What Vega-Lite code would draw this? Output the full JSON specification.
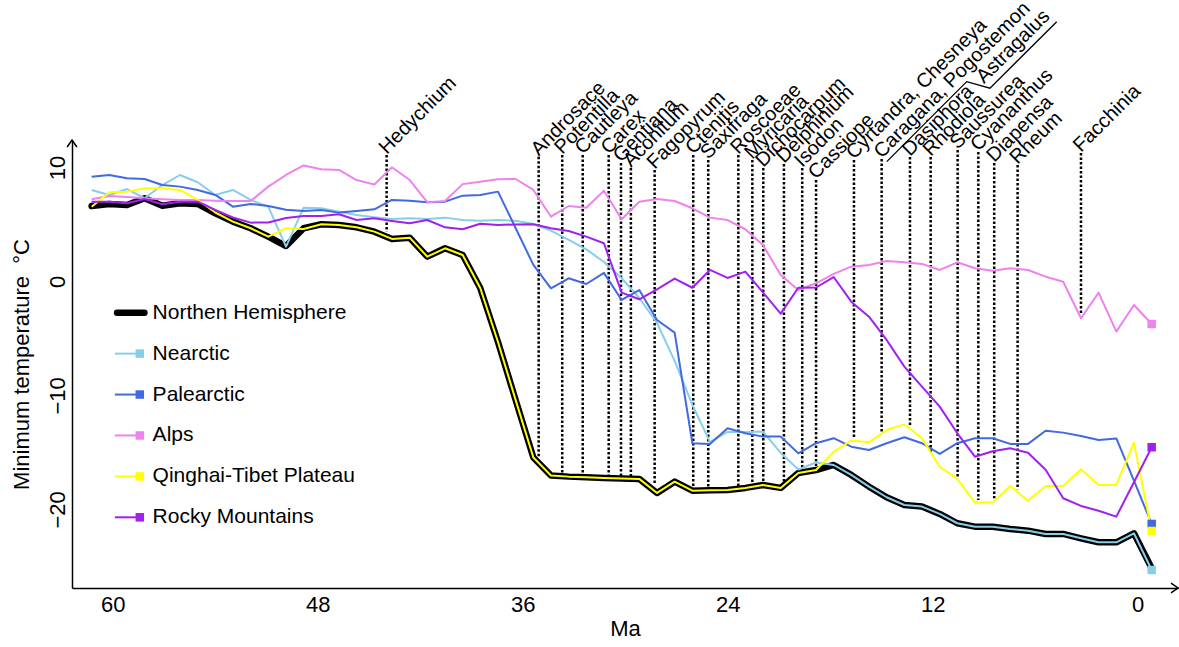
{
  "$schema": "https://vega.github.io/schema/vega-lite/v6.json",
  "width": 1106,
  "height": 448,
  "autosize": {"type": "none"},
  "padding": {"left": 72, "top": 140, "right": 1, "bottom": 59},
  "background": "white",
  "config": {
    "view": {"stroke": null},
    "font": "Liberation Sans",
    "text": {"font": "Liberation Sans"}
  },
  "datasets": {
    "temps": [
      {"region": "Northen Hemisphere", "ma": 61.24, "temp": 6.62},
      {"region": "Northen Hemisphere", "ma": 60.21, "temp": 6.80},
      {"region": "Northen Hemisphere", "ma": 59.17, "temp": 6.71},
      {"region": "Northen Hemisphere", "ma": 58.14, "temp": 7.30},
      {"region": "Northen Hemisphere", "ma": 57.10, "temp": 6.65},
      {"region": "Northen Hemisphere", "ma": 56.07, "temp": 6.86},
      {"region": "Northen Hemisphere", "ma": 55.03, "temp": 6.80},
      {"region": "Northen Hemisphere", "ma": 54.00, "temp": 5.98},
      {"region": "Northen Hemisphere", "ma": 52.97, "temp": 5.25},
      {"region": "Northen Hemisphere", "ma": 51.93, "temp": 4.67},
      {"region": "Northen Hemisphere", "ma": 50.90, "temp": 3.93},
      {"region": "Northen Hemisphere", "ma": 49.86, "temp": 3.11},
      {"region": "Northen Hemisphere", "ma": 48.83, "temp": 4.67},
      {"region": "Northen Hemisphere", "ma": 47.79, "temp": 5.02},
      {"region": "Northen Hemisphere", "ma": 46.76, "temp": 4.96},
      {"region": "Northen Hemisphere", "ma": 45.73, "temp": 4.75},
      {"region": "Northen Hemisphere", "ma": 44.69, "temp": 4.37},
      {"region": "Northen Hemisphere", "ma": 43.66, "temp": 3.73},
      {"region": "Northen Hemisphere", "ma": 42.62, "temp": 3.84},
      {"region": "Northen Hemisphere", "ma": 41.59, "temp": 2.18},
      {"region": "Northen Hemisphere", "ma": 40.55, "temp": 2.91},
      {"region": "Northen Hemisphere", "ma": 39.52, "temp": 2.32},
      {"region": "Northen Hemisphere", "ma": 38.49, "temp": -0.57},
      {"region": "Northen Hemisphere", "ma": 37.45, "temp": -5.31},
      {"region": "Northen Hemisphere", "ma": 36.42, "temp": -10.39},
      {"region": "Northen Hemisphere", "ma": 35.38, "temp": -15.44},
      {"region": "Northen Hemisphere", "ma": 34.35, "temp": -17.02},
      {"region": "Northen Hemisphere", "ma": 33.31, "temp": -17.12},
      {"region": "Northen Hemisphere", "ma": 32.28, "temp": -17.18},
      {"region": "Northen Hemisphere", "ma": 31.25, "temp": -17.24},
      {"region": "Northen Hemisphere", "ma": 30.21, "temp": -17.28},
      {"region": "Northen Hemisphere", "ma": 29.18, "temp": -17.32},
      {"region": "Northen Hemisphere", "ma": 28.14, "temp": -18.55},
      {"region": "Northen Hemisphere", "ma": 27.11, "temp": -17.56},
      {"region": "Northen Hemisphere", "ma": 26.07, "temp": -18.35},
      {"region": "Northen Hemisphere", "ma": 25.04, "temp": -18.32},
      {"region": "Northen Hemisphere", "ma": 24.01, "temp": -18.29},
      {"region": "Northen Hemisphere", "ma": 22.97, "temp": -18.11},
      {"region": "Northen Hemisphere", "ma": 21.94, "temp": -17.85},
      {"region": "Northen Hemisphere", "ma": 20.90, "temp": -18.11},
      {"region": "Northen Hemisphere", "ma": 19.87, "temp": -16.80},
      {"region": "Northen Hemisphere", "ma": 18.83, "temp": -16.54},
      {"region": "Northen Hemisphere", "ma": 17.80, "temp": -16.10},
      {"region": "Northen Hemisphere", "ma": 16.77, "temp": -16.97},
      {"region": "Northen Hemisphere", "ma": 15.73, "temp": -18.00},
      {"region": "Northen Hemisphere", "ma": 14.70, "temp": -18.93},
      {"region": "Northen Hemisphere", "ma": 13.66, "temp": -19.61},
      {"region": "Northen Hemisphere", "ma": 12.63, "temp": -19.75},
      {"region": "Northen Hemisphere", "ma": 11.59, "temp": -20.39},
      {"region": "Northen Hemisphere", "ma": 10.56, "temp": -21.21},
      {"region": "Northen Hemisphere", "ma": 9.53, "temp": -21.51},
      {"region": "Northen Hemisphere", "ma": 8.49, "temp": -21.51},
      {"region": "Northen Hemisphere", "ma": 7.46, "temp": -21.71},
      {"region": "Northen Hemisphere", "ma": 6.42, "temp": -21.86},
      {"region": "Northen Hemisphere", "ma": 5.39, "temp": -22.15},
      {"region": "Northen Hemisphere", "ma": 4.36, "temp": -22.15},
      {"region": "Northen Hemisphere", "ma": 3.32, "temp": -22.53},
      {"region": "Northen Hemisphere", "ma": 2.29, "temp": -22.88},
      {"region": "Northen Hemisphere", "ma": 1.25, "temp": -22.88},
      {"region": "Northen Hemisphere", "ma": 0.22, "temp": -22.09},
      {"region": "Northen Hemisphere", "ma": -0.82, "temp": -25.16},

      {"region": "Nearctic", "ma": 61.24, "temp": 8.03},
      {"region": "Nearctic", "ma": 60.21, "temp": 7.59},
      {"region": "Nearctic", "ma": 59.17, "temp": 8.11},
      {"region": "Nearctic", "ma": 58.14, "temp": 7.30},
      {"region": "Nearctic", "ma": 57.10, "temp": 8.46},
      {"region": "Nearctic", "ma": 56.07, "temp": 9.34},
      {"region": "Nearctic", "ma": 55.03, "temp": 8.70},
      {"region": "Nearctic", "ma": 54.00, "temp": 7.59},
      {"region": "Nearctic", "ma": 52.97, "temp": 8.03},
      {"region": "Nearctic", "ma": 51.93, "temp": 7.15},
      {"region": "Nearctic", "ma": 50.90, "temp": 6.56},
      {"region": "Nearctic", "ma": 49.86, "temp": 3.05},
      {"region": "Nearctic", "ma": 48.83, "temp": 6.47},
      {"region": "Nearctic", "ma": 47.79, "temp": 6.42},
      {"region": "Nearctic", "ma": 46.76, "temp": 6.12},
      {"region": "Nearctic", "ma": 45.73, "temp": 5.83},
      {"region": "Nearctic", "ma": 44.69, "temp": 5.63},
      {"region": "Nearctic", "ma": 43.66, "temp": 5.48},
      {"region": "Nearctic", "ma": 42.62, "temp": 5.54},
      {"region": "Nearctic", "ma": 41.59, "temp": 5.48},
      {"region": "Nearctic", "ma": 40.55, "temp": 5.60},
      {"region": "Nearctic", "ma": 39.52, "temp": 5.39},
      {"region": "Nearctic", "ma": 38.49, "temp": 5.33},
      {"region": "Nearctic", "ma": 37.45, "temp": 5.39},
      {"region": "Nearctic", "ma": 36.42, "temp": 5.33},
      {"region": "Nearctic", "ma": 35.38, "temp": 5.04},
      {"region": "Nearctic", "ma": 34.35, "temp": 4.46},
      {"region": "Nearctic", "ma": 33.31, "temp": 3.64},
      {"region": "Nearctic", "ma": 32.28, "temp": 2.82},
      {"region": "Nearctic", "ma": 31.25, "temp": 1.71},
      {"region": "Nearctic", "ma": 30.21, "temp": 0.28},
      {"region": "Nearctic", "ma": 29.18, "temp": -1.45},
      {"region": "Nearctic", "ma": 28.14, "temp": -3.64},
      {"region": "Nearctic", "ma": 27.11, "temp": -6.97},
      {"region": "Nearctic", "ma": 26.07, "temp": -10.83},
      {"region": "Nearctic", "ma": 25.04, "temp": -14.08},
      {"region": "Nearctic", "ma": 24.01, "temp": -13.20},
      {"region": "Nearctic", "ma": 22.97, "temp": -13.20},
      {"region": "Nearctic", "ma": 21.94, "temp": -13.16},
      {"region": "Nearctic", "ma": 20.90, "temp": -15.04},
      {"region": "Nearctic", "ma": 19.87, "temp": -16.49},
      {"region": "Nearctic", "ma": 18.83, "temp": -15.88},
      {"region": "Nearctic", "ma": 17.80, "temp": -16.10},
      {"region": "Nearctic", "ma": 16.77, "temp": -16.97},
      {"region": "Nearctic", "ma": 15.73, "temp": -18.00},
      {"region": "Nearctic", "ma": 14.70, "temp": -18.93},
      {"region": "Nearctic", "ma": 13.66, "temp": -19.61},
      {"region": "Nearctic", "ma": 12.63, "temp": -19.75},
      {"region": "Nearctic", "ma": 11.59, "temp": -20.39},
      {"region": "Nearctic", "ma": 10.56, "temp": -21.21},
      {"region": "Nearctic", "ma": 9.53, "temp": -21.51},
      {"region": "Nearctic", "ma": 8.49, "temp": -21.51},
      {"region": "Nearctic", "ma": 7.46, "temp": -21.71},
      {"region": "Nearctic", "ma": 6.42, "temp": -21.86},
      {"region": "Nearctic", "ma": 5.39, "temp": -22.15},
      {"region": "Nearctic", "ma": 4.36, "temp": -22.15},
      {"region": "Nearctic", "ma": 3.32, "temp": -22.53},
      {"region": "Nearctic", "ma": 2.29, "temp": -22.88},
      {"region": "Nearctic", "ma": 1.25, "temp": -22.88},
      {"region": "Nearctic", "ma": 0.22, "temp": -22.09},
      {"region": "Nearctic", "ma": -0.82, "temp": -25.31},

      {"region": "Palearctic", "ma": 61.24, "temp": 9.19},
      {"region": "Palearctic", "ma": 60.21, "temp": 9.34},
      {"region": "Palearctic", "ma": 59.17, "temp": 9.05},
      {"region": "Palearctic", "ma": 58.14, "temp": 8.99},
      {"region": "Palearctic", "ma": 57.10, "temp": 8.46},
      {"region": "Palearctic", "ma": 56.07, "temp": 8.32},
      {"region": "Palearctic", "ma": 55.03, "temp": 8.03},
      {"region": "Palearctic", "ma": 54.00, "temp": 7.59},
      {"region": "Palearctic", "ma": 52.97, "temp": 6.56},
      {"region": "Palearctic", "ma": 51.93, "temp": 6.80},
      {"region": "Palearctic", "ma": 50.90, "temp": 6.62},
      {"region": "Palearctic", "ma": 49.86, "temp": 6.30},
      {"region": "Palearctic", "ma": 48.83, "temp": 6.18},
      {"region": "Palearctic", "ma": 47.79, "temp": 6.27},
      {"region": "Palearctic", "ma": 46.76, "temp": 6.04},
      {"region": "Palearctic", "ma": 45.73, "temp": 6.18},
      {"region": "Palearctic", "ma": 44.69, "temp": 6.33},
      {"region": "Palearctic", "ma": 43.66, "temp": 7.15},
      {"region": "Palearctic", "ma": 42.62, "temp": 7.09},
      {"region": "Palearctic", "ma": 41.59, "temp": 6.95},
      {"region": "Palearctic", "ma": 40.55, "temp": 7.00},
      {"region": "Palearctic", "ma": 39.52, "temp": 7.53},
      {"region": "Palearctic", "ma": 38.49, "temp": 7.59},
      {"region": "Palearctic", "ma": 37.45, "temp": 7.88},
      {"region": "Palearctic", "ma": 36.42, "temp": 4.69},
      {"region": "Palearctic", "ma": 35.38, "temp": 1.45},
      {"region": "Palearctic", "ma": 34.35, "temp": -0.60},
      {"region": "Palearctic", "ma": 33.31, "temp": 0.28},
      {"region": "Palearctic", "ma": 32.28, "temp": -0.22},
      {"region": "Palearctic", "ma": 31.25, "temp": 0.75},
      {"region": "Palearctic", "ma": 30.21, "temp": -1.62},
      {"region": "Palearctic", "ma": 29.18, "temp": -0.75},
      {"region": "Palearctic", "ma": 28.14, "temp": -3.38},
      {"region": "Palearctic", "ma": 27.11, "temp": -4.49},
      {"region": "Palearctic", "ma": 26.07, "temp": -14.19},
      {"region": "Palearctic", "ma": 25.04, "temp": -14.25},
      {"region": "Palearctic", "ma": 24.01, "temp": -12.88},
      {"region": "Palearctic", "ma": 22.97, "temp": -13.32},
      {"region": "Palearctic", "ma": 21.94, "temp": -13.61},
      {"region": "Palearctic", "ma": 20.90, "temp": -13.61},
      {"region": "Palearctic", "ma": 19.87, "temp": -15.07},
      {"region": "Palearctic", "ma": 18.83, "temp": -14.19},
      {"region": "Palearctic", "ma": 17.80, "temp": -13.75},
      {"region": "Palearctic", "ma": 16.77, "temp": -14.49},
      {"region": "Palearctic", "ma": 15.73, "temp": -14.78},
      {"region": "Palearctic", "ma": 14.70, "temp": -14.19},
      {"region": "Palearctic", "ma": 13.66, "temp": -13.67},
      {"region": "Palearctic", "ma": 12.63, "temp": -14.19},
      {"region": "Palearctic", "ma": 11.59, "temp": -15.13},
      {"region": "Palearctic", "ma": 10.56, "temp": -14.19},
      {"region": "Palearctic", "ma": 9.53, "temp": -13.75},
      {"region": "Palearctic", "ma": 8.49, "temp": -13.75},
      {"region": "Palearctic", "ma": 7.46, "temp": -14.25},
      {"region": "Palearctic", "ma": 6.42, "temp": -14.25},
      {"region": "Palearctic", "ma": 5.39, "temp": -13.09},
      {"region": "Palearctic", "ma": 4.36, "temp": -13.26},
      {"region": "Palearctic", "ma": 3.32, "temp": -13.55},
      {"region": "Palearctic", "ma": 2.29, "temp": -13.90},
      {"region": "Palearctic", "ma": 1.25, "temp": -13.77},
      {"region": "Palearctic", "ma": 0.22, "temp": -17.48},
      {"region": "Palearctic", "ma": -0.82, "temp": -21.27},

      {"region": "Alps", "ma": 61.24, "temp": 7.21},
      {"region": "Alps", "ma": 60.21, "temp": 7.50},
      {"region": "Alps", "ma": 59.17, "temp": 7.40},
      {"region": "Alps", "ma": 58.14, "temp": 7.30},
      {"region": "Alps", "ma": 57.10, "temp": 7.21},
      {"region": "Alps", "ma": 56.07, "temp": 7.15},
      {"region": "Alps", "ma": 55.03, "temp": 7.15},
      {"region": "Alps", "ma": 54.00, "temp": 7.09},
      {"region": "Alps", "ma": 52.97, "temp": 7.05},
      {"region": "Alps", "ma": 51.93, "temp": 7.05},
      {"region": "Alps", "ma": 50.90, "temp": 8.32},
      {"region": "Alps", "ma": 49.86, "temp": 9.34},
      {"region": "Alps", "ma": 48.83, "temp": 10.18},
      {"region": "Alps", "ma": 47.79, "temp": 9.84},
      {"region": "Alps", "ma": 46.76, "temp": 9.78},
      {"region": "Alps", "ma": 45.73, "temp": 8.90},
      {"region": "Alps", "ma": 44.69, "temp": 8.51},
      {"region": "Alps", "ma": 43.66, "temp": 10.02},
      {"region": "Alps", "ma": 42.62, "temp": 8.90},
      {"region": "Alps", "ma": 41.59, "temp": 6.95},
      {"region": "Alps", "ma": 40.55, "temp": 7.06},
      {"region": "Alps", "ma": 39.52, "temp": 8.54},
      {"region": "Alps", "ma": 38.49, "temp": 8.75},
      {"region": "Alps", "ma": 37.45, "temp": 8.97},
      {"region": "Alps", "ma": 36.42, "temp": 8.99},
      {"region": "Alps", "ma": 35.38, "temp": 8.03},
      {"region": "Alps", "ma": 34.35, "temp": 5.68},
      {"region": "Alps", "ma": 33.31, "temp": 6.62},
      {"region": "Alps", "ma": 32.28, "temp": 6.47},
      {"region": "Alps", "ma": 31.25, "temp": 7.96},
      {"region": "Alps", "ma": 30.21, "temp": 5.46},
      {"region": "Alps", "ma": 29.18, "temp": 7.00},
      {"region": "Alps", "ma": 28.14, "temp": 7.24},
      {"region": "Alps", "ma": 27.11, "temp": 7.06},
      {"region": "Alps", "ma": 26.07, "temp": 6.42},
      {"region": "Alps", "ma": 25.04, "temp": 5.60},
      {"region": "Alps", "ma": 24.01, "temp": 5.39},
      {"region": "Alps", "ma": 22.97, "temp": 4.58},
      {"region": "Alps", "ma": 21.94, "temp": 3.20},
      {"region": "Alps", "ma": 20.90, "temp": 0.57},
      {"region": "Alps", "ma": 19.87, "temp": -0.75},
      {"region": "Alps", "ma": 18.83, "temp": -0.16},
      {"region": "Alps", "ma": 17.80, "temp": 0.66},
      {"region": "Alps", "ma": 16.77, "temp": 1.30},
      {"region": "Alps", "ma": 15.73, "temp": 1.45},
      {"region": "Alps", "ma": 14.70, "temp": 1.80},
      {"region": "Alps", "ma": 13.66, "temp": 1.68},
      {"region": "Alps", "ma": 12.63, "temp": 1.54},
      {"region": "Alps", "ma": 11.59, "temp": 1.01},
      {"region": "Alps", "ma": 10.56, "temp": 1.68},
      {"region": "Alps", "ma": 9.53, "temp": 1.16},
      {"region": "Alps", "ma": 8.49, "temp": 0.95},
      {"region": "Alps", "ma": 7.46, "temp": 1.16},
      {"region": "Alps", "ma": 6.42, "temp": 1.01},
      {"region": "Alps", "ma": 5.39, "temp": 0.42},
      {"region": "Alps", "ma": 4.36, "temp": -0.02},
      {"region": "Alps", "ma": 3.32, "temp": -3.23},
      {"region": "Alps", "ma": 2.29, "temp": -0.98},
      {"region": "Alps", "ma": 1.25, "temp": -4.40},
      {"region": "Alps", "ma": 0.22, "temp": -2.06},
      {"region": "Alps", "ma": -0.82, "temp": -3.73},

      {"region": "Qinghai-Tibet Plateau", "ma": 61.24, "temp": 6.56},
      {"region": "Qinghai-Tibet Plateau", "ma": 60.21, "temp": 7.82},
      {"region": "Qinghai-Tibet Plateau", "ma": 59.17, "temp": 7.88},
      {"region": "Qinghai-Tibet Plateau", "ma": 58.14, "temp": 8.18},
      {"region": "Qinghai-Tibet Plateau", "ma": 57.10, "temp": 8.18},
      {"region": "Qinghai-Tibet Plateau", "ma": 56.07, "temp": 8.03},
      {"region": "Qinghai-Tibet Plateau", "ma": 55.03, "temp": 7.15},
      {"region": "Qinghai-Tibet Plateau", "ma": 54.00, "temp": 6.05},
      {"region": "Qinghai-Tibet Plateau", "ma": 52.97, "temp": 5.25},
      {"region": "Qinghai-Tibet Plateau", "ma": 51.93, "temp": 4.67},
      {"region": "Qinghai-Tibet Plateau", "ma": 50.90, "temp": 3.93},
      {"region": "Qinghai-Tibet Plateau", "ma": 49.86, "temp": 4.67},
      {"region": "Qinghai-Tibet Plateau", "ma": 48.83, "temp": 4.60},
      {"region": "Qinghai-Tibet Plateau", "ma": 47.79, "temp": 5.02},
      {"region": "Qinghai-Tibet Plateau", "ma": 46.76, "temp": 4.96},
      {"region": "Qinghai-Tibet Plateau", "ma": 45.73, "temp": 4.75},
      {"region": "Qinghai-Tibet Plateau", "ma": 44.69, "temp": 4.37},
      {"region": "Qinghai-Tibet Plateau", "ma": 43.66, "temp": 3.73},
      {"region": "Qinghai-Tibet Plateau", "ma": 42.62, "temp": 3.84},
      {"region": "Qinghai-Tibet Plateau", "ma": 41.59, "temp": 2.18},
      {"region": "Qinghai-Tibet Plateau", "ma": 40.55, "temp": 2.91},
      {"region": "Qinghai-Tibet Plateau", "ma": 39.52, "temp": 2.32},
      {"region": "Qinghai-Tibet Plateau", "ma": 38.49, "temp": -0.57},
      {"region": "Qinghai-Tibet Plateau", "ma": 37.45, "temp": -5.31},
      {"region": "Qinghai-Tibet Plateau", "ma": 36.42, "temp": -10.39},
      {"region": "Qinghai-Tibet Plateau", "ma": 35.38, "temp": -15.44},
      {"region": "Qinghai-Tibet Plateau", "ma": 34.35, "temp": -17.02},
      {"region": "Qinghai-Tibet Plateau", "ma": 33.31, "temp": -17.12},
      {"region": "Qinghai-Tibet Plateau", "ma": 32.28, "temp": -17.18},
      {"region": "Qinghai-Tibet Plateau", "ma": 31.25, "temp": -17.24},
      {"region": "Qinghai-Tibet Plateau", "ma": 30.21, "temp": -17.28},
      {"region": "Qinghai-Tibet Plateau", "ma": 29.18, "temp": -17.32},
      {"region": "Qinghai-Tibet Plateau", "ma": 28.14, "temp": -18.55},
      {"region": "Qinghai-Tibet Plateau", "ma": 27.11, "temp": -17.56},
      {"region": "Qinghai-Tibet Plateau", "ma": 26.07, "temp": -18.35},
      {"region": "Qinghai-Tibet Plateau", "ma": 25.04, "temp": -18.32},
      {"region": "Qinghai-Tibet Plateau", "ma": 24.01, "temp": -18.29},
      {"region": "Qinghai-Tibet Plateau", "ma": 22.97, "temp": -18.11},
      {"region": "Qinghai-Tibet Plateau", "ma": 21.94, "temp": -17.85},
      {"region": "Qinghai-Tibet Plateau", "ma": 20.90, "temp": -18.11},
      {"region": "Qinghai-Tibet Plateau", "ma": 19.87, "temp": -16.80},
      {"region": "Qinghai-Tibet Plateau", "ma": 18.83, "temp": -16.54},
      {"region": "Qinghai-Tibet Plateau", "ma": 17.80, "temp": -14.95},
      {"region": "Qinghai-Tibet Plateau", "ma": 16.77, "temp": -13.95},
      {"region": "Qinghai-Tibet Plateau", "ma": 15.73, "temp": -14.11},
      {"region": "Qinghai-Tibet Plateau", "ma": 14.70, "temp": -13.03},
      {"region": "Qinghai-Tibet Plateau", "ma": 13.66, "temp": -12.54},
      {"region": "Qinghai-Tibet Plateau", "ma": 12.63, "temp": -13.75},
      {"region": "Qinghai-Tibet Plateau", "ma": 11.59, "temp": -16.25},
      {"region": "Qinghai-Tibet Plateau", "ma": 10.56, "temp": -17.32},
      {"region": "Qinghai-Tibet Plateau", "ma": 9.53, "temp": -19.40},
      {"region": "Qinghai-Tibet Plateau", "ma": 8.49, "temp": -19.40},
      {"region": "Qinghai-Tibet Plateau", "ma": 7.46, "temp": -17.94},
      {"region": "Qinghai-Tibet Plateau", "ma": 6.42, "temp": -19.23},
      {"region": "Qinghai-Tibet Plateau", "ma": 5.39, "temp": -17.94},
      {"region": "Qinghai-Tibet Plateau", "ma": 4.36, "temp": -17.94},
      {"region": "Qinghai-Tibet Plateau", "ma": 3.32, "temp": -16.47},
      {"region": "Qinghai-Tibet Plateau", "ma": 2.29, "temp": -17.85},
      {"region": "Qinghai-Tibet Plateau", "ma": 1.25, "temp": -17.85},
      {"region": "Qinghai-Tibet Plateau", "ma": 0.22, "temp": -14.14},
      {"region": "Qinghai-Tibet Plateau", "ma": -0.82, "temp": -21.89},

      {"region": "Rocky Mountains", "ma": 61.24, "temp": 7.00},
      {"region": "Rocky Mountains", "ma": 60.21, "temp": 7.00},
      {"region": "Rocky Mountains", "ma": 59.17, "temp": 6.86},
      {"region": "Rocky Mountains", "ma": 58.14, "temp": 7.24},
      {"region": "Rocky Mountains", "ma": 57.10, "temp": 6.77},
      {"region": "Rocky Mountains", "ma": 56.07, "temp": 7.00},
      {"region": "Rocky Mountains", "ma": 55.03, "temp": 7.00},
      {"region": "Rocky Mountains", "ma": 54.00, "temp": 6.27},
      {"region": "Rocky Mountains", "ma": 52.97, "temp": 5.61},
      {"region": "Rocky Mountains", "ma": 51.93, "temp": 5.16},
      {"region": "Rocky Mountains", "ma": 50.90, "temp": 5.18},
      {"region": "Rocky Mountains", "ma": 49.86, "temp": 5.57},
      {"region": "Rocky Mountains", "ma": 48.83, "temp": 5.75},
      {"region": "Rocky Mountains", "ma": 47.79, "temp": 5.75},
      {"region": "Rocky Mountains", "ma": 46.76, "temp": 5.90},
      {"region": "Rocky Mountains", "ma": 45.73, "temp": 5.39},
      {"region": "Rocky Mountains", "ma": 44.69, "temp": 5.54},
      {"region": "Rocky Mountains", "ma": 43.66, "temp": 5.31},
      {"region": "Rocky Mountains", "ma": 42.62, "temp": 5.11},
      {"region": "Rocky Mountains", "ma": 41.59, "temp": 5.39},
      {"region": "Rocky Mountains", "ma": 40.55, "temp": 4.75},
      {"region": "Rocky Mountains", "ma": 39.52, "temp": 4.58},
      {"region": "Rocky Mountains", "ma": 38.49, "temp": 5.07},
      {"region": "Rocky Mountains", "ma": 37.45, "temp": 4.96},
      {"region": "Rocky Mountains", "ma": 36.42, "temp": 5.00},
      {"region": "Rocky Mountains", "ma": 35.38, "temp": 5.02},
      {"region": "Rocky Mountains", "ma": 34.35, "temp": 4.67},
      {"region": "Rocky Mountains", "ma": 33.31, "temp": 4.43},
      {"region": "Rocky Mountains", "ma": 32.28, "temp": 3.93},
      {"region": "Rocky Mountains", "ma": 31.25, "temp": 3.35},
      {"region": "Rocky Mountains", "ma": 30.21, "temp": -0.98},
      {"region": "Rocky Mountains", "ma": 29.18, "temp": -1.56},
      {"region": "Rocky Mountains", "ma": 28.14, "temp": -0.70},
      {"region": "Rocky Mountains", "ma": 27.11, "temp": 0.25},
      {"region": "Rocky Mountains", "ma": 26.07, "temp": -0.55},
      {"region": "Rocky Mountains", "ma": 25.04, "temp": 1.01},
      {"region": "Rocky Mountains", "ma": 24.01, "temp": 0.31},
      {"region": "Rocky Mountains", "ma": 22.97, "temp": 0.86},
      {"region": "Rocky Mountains", "ma": 21.94, "temp": -0.96},
      {"region": "Rocky Mountains", "ma": 20.90, "temp": -2.82},
      {"region": "Rocky Mountains", "ma": 19.87, "temp": -0.55},
      {"region": "Rocky Mountains", "ma": 18.83, "temp": -0.53},
      {"region": "Rocky Mountains", "ma": 17.80, "temp": 0.39},
      {"region": "Rocky Mountains", "ma": 16.77, "temp": -1.77},
      {"region": "Rocky Mountains", "ma": 15.73, "temp": -3.09},
      {"region": "Rocky Mountains", "ma": 14.70, "temp": -5.13},
      {"region": "Rocky Mountains", "ma": 13.66, "temp": -7.47},
      {"region": "Rocky Mountains", "ma": 12.63, "temp": -9.23},
      {"region": "Rocky Mountains", "ma": 11.59, "temp": -10.98},
      {"region": "Rocky Mountains", "ma": 10.56, "temp": -13.32},
      {"region": "Rocky Mountains", "ma": 9.53, "temp": -15.37},
      {"region": "Rocky Mountains", "ma": 8.49, "temp": -14.89},
      {"region": "Rocky Mountains", "ma": 7.46, "temp": -14.63},
      {"region": "Rocky Mountains", "ma": 6.42, "temp": -15.02},
      {"region": "Rocky Mountains", "ma": 5.39, "temp": -16.51},
      {"region": "Rocky Mountains", "ma": 4.36, "temp": -19.02},
      {"region": "Rocky Mountains", "ma": 3.32, "temp": -19.69},
      {"region": "Rocky Mountains", "ma": 2.29, "temp": -20.11},
      {"region": "Rocky Mountains", "ma": 1.25, "temp": -20.63},
      {"region": "Rocky Mountains", "ma": 0.22, "temp": -17.62},
      {"region": "Rocky Mountains", "ma": -0.82, "temp": -14.54}
    ],
    "taxa": [
      {"name": "Hedychium", "ma": 43.97, "top": 11.10, "base": 4.37},
      {"name": "Androsace", "ma": 35.07, "top": 10.95, "base": -15.35},
      {"name": "Potentilla", "ma": 33.69, "top": 11.10, "base": -16.77},
      {"name": "Cautleya", "ma": 32.49, "top": 11.10, "base": -16.83},
      {"name": "Carex", "ma": 30.97, "top": 11.10, "base": -16.97},
      {"name": "Gentiana", "ma": 30.25, "top": 10.39, "base": -17.06},
      {"name": "Aconitum", "ma": 29.67, "top": 9.96, "base": -17.06},
      {"name": "Fagopyrum", "ma": 28.28, "top": 9.78, "base": -17.70},
      {"name": "Ctenitis", "ma": 26.02, "top": 11.10, "base": -18.00},
      {"name": "Saxifraga", "ma": 25.14, "top": 10.66, "base": -18.00},
      {"name": "Roscoeae", "ma": 23.38, "top": 11.10, "base": -17.94},
      {"name": "Myricaria", "ma": 22.56, "top": 10.66, "base": -17.85},
      {"name": "Dichocarpum", "ma": 21.92, "top": 9.96, "base": -17.76},
      {"name": "Delphinium", "ma": 20.71, "top": 10.31, "base": -18.00},
      {"name": "Isodon", "ma": 19.64, "top": 9.96, "base": -16.83},
      {"name": "Cassiope", "ma": 18.83, "top": 8.90, "base": -16.39},
      {"name": "Cyrtandra, Chesneya", "ma": 16.61, "top": 10.66, "base": -13.75},
      {"name": "Caragana, Pogostemon", "ma": 14.99, "top": 10.75, "base": -13.18},
      {"name": "Astragalus", "ma": 9.0, "top": 17.3, "base": null},
      {"name": "Dasiphora", "ma": 13.33, "top": 10.92, "base": -12.74},
      {"name": "Rhodiola", "ma": 12.12, "top": 10.92, "base": -14.93},
      {"name": "Saussurea", "ma": 10.54, "top": 11.54, "base": -17.26},
      {"name": "Cyananthus", "ma": 9.33, "top": 11.36, "base": -19.17},
      {"name": "Diapensa", "ma": 8.40, "top": 10.39, "base": -19.02},
      {"name": "Rheum", "ma": 7.03, "top": 10.22, "base": -18.23},
      {"name": "Facchinia", "ma": 3.32, "top": 11.27, "base": -2.94}
    ],
    "bracket": [
      {"ma": 14.69, "temp": 10.51},
      {"ma": 10.01, "temp": 17.53},
      {"ma": 8.65, "temp": 16.95},
      {"ma": 4.74, "temp": 22.79}
    ],
    "axis_ends": [
      {"axis": "temperature", "ma": 62.39, "temp": 12.41},
      {"axis": "age", "ma": -2.36, "temp": -26.89}
    ],
    "regions": [
      {"region": "Northen Hemisphere"},
      {"region": "Nearctic"},
      {"region": "Palearctic"},
      {"region": "Alps"},
      {"region": "Qinghai-Tibet Plateau"},
      {"region": "Rocky Mountains"}
    ]
  },
  "layer": [
    {
      "encoding": {
        "x": {
          "field": "ma",
          "type": "quantitative",
          "scale": {"domain": [-2.36, 62.39], "reverse": true, "nice": false, "zero": false},
          "axis": {
            "values": [60, 48, 36, 24, 12, 0],
            "ticks": false,
            "grid": false,
            "domainColor": "black",
            "domainWidth": 1.5,
            "labelFontSize": 22,
            "labelColor": "black",
            "labelPadding": 6,
            "labelFlush": false,
            "labelOverlap": false,
            "title": "Ma",
            "titleFontSize": 22,
            "titleFontWeight": "normal",
            "titleColor": "black",
            "titlePadding": 3
          }
        },
        "y": {
          "field": "temp",
          "type": "quantitative",
          "scale": {"domain": [-26.89, 12.41], "nice": false, "zero": false},
          "axis": {
            "orient": "left",
            "values": [10, 0, -10, -20],
            "ticks": false,
            "grid": false,
            "domainColor": "black",
            "domainWidth": 1.5,
            "labelFontSize": 22,
            "labelColor": "black",
            "labelAngle": 270,
            "labelAlign": "center",
            "labelBaseline": "bottom",
            "labelPadding": 3,
            "labelFlush": false,
            "labelOverlap": false,
            "title": "Minimum temperature \u00a0\u00b0C",
            "titleFontSize": 22,
            "titleFontWeight": "normal",
            "titleColor": "black",
            "titlePadding": 13
          }
        }
      },
      "layer": [
        {
          "data": {"name": "taxa"},
          "transform": [{"filter": "datum.base != null"}],
          "mark": {"type": "rule", "color": "black", "strokeWidth": 2.5, "strokeDash": [2.5, 2]},
          "encoding": {
            "y": {"field": "top", "type": "quantitative"},
            "y2": {"field": "base"}
          }
        },
        {
          "data": {"name": "temps"},
          "transform": [{"filter": "datum.region === 'Northen Hemisphere'"}],
          "mark": {"type": "line", "strokeWidth": 6.5, "strokeJoin": "round", "strokeCap": "round"},
          "encoding": {
            "color": {
              "field": "region",
              "type": "nominal",
              "scale": {
                "domain": ["Northen Hemisphere", "Nearctic", "Palearctic", "Alps", "Qinghai-Tibet Plateau", "Rocky Mountains"],
                "range": ["#000000", "#87CEEB", "#4169E1", "#EE82EE", "#FFFF00", "#A020F0"]
              },
              "legend": null
            }
          }
        },
        {
          "data": {"name": "temps"},
          "transform": [{"filter": "datum.region !== 'Northen Hemisphere'"}],
          "mark": {"type": "line", "strokeWidth": 2, "strokeJoin": "round"},
          "encoding": {
            "color": {"field": "region", "type": "nominal", "legend": null}
          }
        },
        {
          "data": {"name": "temps"},
          "transform": [{"filter": "datum.region !== 'Northen Hemisphere' && datum.ma < 0"}],
          "mark": {"type": "point", "shape": "square", "filled": true, "size": 72, "opacity": 1},
          "encoding": {
            "color": {"field": "region", "type": "nominal", "legend": null}
          }
        },
        {
          "data": {"name": "taxa"},
          "mark": {"type": "text", "angle": 315, "align": "left", "baseline": "alphabetic", "fontSize": 20, "color": "black", "font": "Liberation Sans"},
          "encoding": {
            "y": {"field": "top", "type": "quantitative"},
            "text": {"field": "name"}
          }
        },
        {
          "data": {"name": "bracket"},
          "mark": {"type": "line", "color": "black", "strokeWidth": 1.3},
          "encoding": {}
        },
        {
          "data": {"name": "axis_ends"},
          "transform": [{"filter": "datum.axis === 'temperature'"}],
          "mark": {"type": "point", "shape": "M -0.7 1 L 0 0 L 0.7 1", "filled": false, "color": "black", "strokeWidth": 1.5, "size": 196, "opacity": 1}
        },
        {
          "data": {"name": "axis_ends"},
          "transform": [{"filter": "datum.axis === 'age'"}],
          "mark": {"type": "point", "shape": "M -1 -0.7 L 0 0 L -1 0.7", "filled": false, "color": "black", "strokeWidth": 1.5, "size": 196, "opacity": 1}
        }
      ]
    },
    {
      "data": {"name": "regions"},
      "encoding": {
        "y": {
          "field": "region",
          "type": "nominal",
          "scale": {
            "type": "point",
            "domain": ["Northen Hemisphere", "Nearctic", "Palearctic", "Alps", "Qinghai-Tibet Plateau", "Rocky Mountains"],
            "range": [172.7, 377.3],
            "padding": 0
          },
          "axis": null
        },
        "color": {"field": "region", "type": "nominal", "legend": null}
      },
      "layer": [
        {
          "transform": [{"filter": "datum.region === 'Northen Hemisphere'"}],
          "mark": {"type": "rule", "strokeWidth": 6.5, "strokeCap": "round"},
          "encoding": {
            "x": {"datum": 59.75, "type": "quantitative"},
            "x2": {"datum": 58.15}
          }
        },
        {
          "transform": [{"filter": "datum.region !== 'Northen Hemisphere'"}],
          "mark": {"type": "rule", "strokeWidth": 2},
          "encoding": {
            "x": {"datum": 59.88, "type": "quantitative"},
            "x2": {"datum": 58.5}
          }
        },
        {
          "transform": [{"filter": "datum.region !== 'Northen Hemisphere'"}],
          "mark": {"type": "point", "shape": "square", "filled": true, "size": 72, "opacity": 1},
          "encoding": {
            "x": {"datum": 58.42, "type": "quantitative"}
          }
        },
        {
          "mark": {"type": "text", "align": "left", "baseline": "middle", "fontSize": 21, "color": "black", "font": "Liberation Sans"},
          "encoding": {
            "x": {"datum": 57.67, "type": "quantitative"},
            "text": {"field": "region"},
            "color": {"value": "black"}
          }
        }
      ]
    }
  ],
  "resolve": {"scale": {"y": "independent"}}
}
